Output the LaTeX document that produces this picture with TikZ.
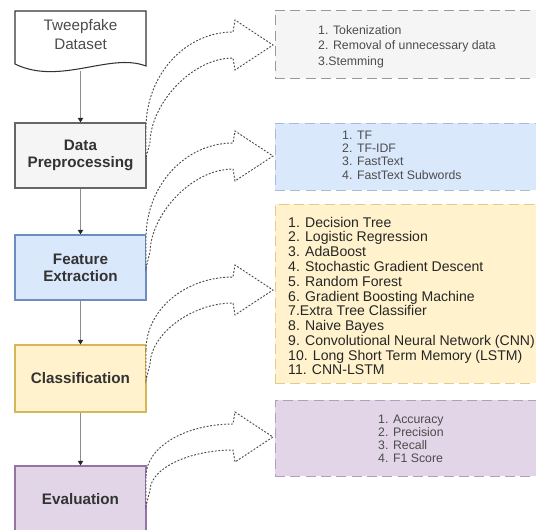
\documentclass[tikz,border=0pt]{standalone}
\usepackage{fontspec}
\setmainfont{Liberation Sans}
\usetikzlibrary{arrows.meta, positioning, calc}
\definecolor{prepfill}{HTML}{F5F5F5}
\definecolor{prepline}{HTML}{666666}
\definecolor{featfill}{HTML}{DAE8FC}
\definecolor{featline}{HTML}{6C8EBF}
\definecolor{classfill}{HTML}{FFF2CC}
\definecolor{classline}{HTML}{D6B656}
\definecolor{evalfill}{HTML}{E1D5E7}
\definecolor{evalline}{HTML}{9673A6}

\tikzset{
  flowbox/.style={draw, line width=0.9pt, minimum width=39.3mm, align=center,
    text=black!80, font=\bfseries\fontsize{13}{14.5}\selectfont},
  listbox/.style={draw, line width=0.8pt, dash pattern=on 3mm off 1.6mm, minimum width=81mm},
  listtext/.style={anchor=west, align=left, inner sep=0pt, text=black!70,
    font=\fontsize{10.5}{13.2}\selectfont},
  flowarrow/.style={draw=black!45, line width=1pt, -{Triangle[length=4pt, width=4.5pt, color=black!85]}},
  bendline/.style={draw=black!70, fill=white, line width=0.8pt, dash pattern=on 1.6pt off 1.4pt}
}

% curved block arrow: #1 = start on box edge, #2 = height of the tip
\newcommand{\bendarrow}[2]{%
  \filldraw[bendline] (146,#1) .. controls (146,{#1-0.55*(#1-#2+13)}) and (185,{#2-13}) .. (233,{#2-13})
    -- (235,{#2-25}) -- (273,#2) -- (235,{#2+25}) -- (233,{#2+13})
    .. controls (192,{#2+13}) and (151,{#1-0.35*(#1-#2-13)}) .. (150,{#1+14})
    -- (146,{#1+30}) -- cycle;}

\begin{document}
\begin{tikzpicture}[x=0.3mm, y=-0.3mm]
  \useasboundingbox (0,0) rectangle (536,529);

  % --- right side: dashed detail boxes ---
  \node[listbox, draw=black!40, fill=prepfill, minimum height=20.4mm] (prepbox) at (410,44) {};
  \node[listtext] (preptext) at (318,46.5) {1. Tokenization\\2. Removal of unnecessary data\\3.Stemming};

  \node[listbox, draw=featline!60, fill=featfill, minimum height=20.1mm] (featbox) at (410,156.5) {};
  \node[listtext, font=\fontsize{10.5}{11.4}\selectfont] (feattext) at (342,155) {1. TF\\2. TF-IDF\\3. FastText\\4. FastText Subwords};

  \node[listbox, draw=classline!70, fill=classfill, minimum height=53.7mm] (classbox) at (410,293.5) {};
  \node[listtext, text=black!85, font=\fontsize{12}{12.6}\selectfont] (classtext) at (288,296)
    {1. Decision Tree\\2. Logistic Regression\\3. AdaBoost\\4. Stochastic Gradient Descent\\5. Random Forest\\
     6. Gradient Boosting Machine\\7.Extra Tree Classifier\\8. Naive Bayes\\9. Convolutional Neural Network (CNN)\\
     10. Long Short Term Memory (LSTM)\\11. CNN-LSTM};

  \node[listbox, draw=evalline!70, fill=evalfill, minimum height=22.8mm] (evalbox) at (410,438) {};
  \node[listtext, font=\fontsize{10.5}{11.1}\selectfont] (evaltext) at (378,438.5) {1. Accuracy\\2. Precision\\3. Recall\\4. F1 Score};

  % --- left side: the pipeline ---
  \filldraw[draw=black!80, fill=white, line width=0.9pt]
    (15,64) -- (15,11) -- (146,11) -- (146,66) .. controls (110,52) and (60,86) .. (15,64) -- cycle;
  \node[align=center, text=black!70, font=\fontsize{13}{16}\selectfont] (dataset) at (80.5,34.5) {Tweepfake\\Dataset};
  \coordinate (datasetend) at (80.5,71);

  \node[flowbox, draw=prepline, fill=prepfill, minimum height=19.5mm] (prep) at (80.5,155.5) {Data\\Preprocessing};
  \node[flowbox, draw=featline, fill=featfill, minimum height=19.5mm] (feature) at (80.5,267.5) {Feature\\Extraction};
  \node[flowbox, draw=classline, fill=classfill, minimum height=20.1mm] (class) at (80.5,378.5) {Classification};
  \node[flowbox, draw=evalline, fill=evalfill, minimum height=20.1mm] (eval) at (80.5,499.5) {Evaluation};

  \draw[flowarrow] (datasetend) -- (prep);
  \draw[flowarrow] (prep) -- (feature);
  \draw[flowarrow] (feature) -- (class);
  \draw[flowarrow] (class) -- (eval);

  % --- curved block arrows towards the details ---
  \bendarrow{128}{45}
  \bendarrow{238}{156}
  \bendarrow{350}{290}
  \bendarrow{476}{437}

\end{tikzpicture}
\end{document}
